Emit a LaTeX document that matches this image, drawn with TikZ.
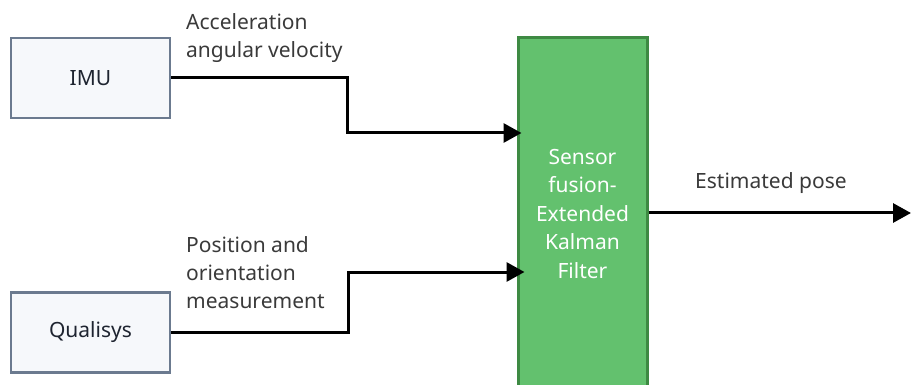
\documentclass[tikz,border=0pt]{standalone}
\usepackage{fontspec}
\setmainfont{Noto Sans}
\usetikzlibrary{arrows.meta}
\definecolor{boxfill}{HTML}{F6F8FB}
\definecolor{boxline}{HTML}{6B7A8F}
\definecolor{ekffill}{HTML}{63C16E}
\definecolor{ekfline}{HTML}{3E8A43}
\definecolor{lbl}{HTML}{3A3A3A}
\definecolor{txt}{HTML}{1E2430}
\tikzset{
  srcbox/.style={draw=boxline, fill=boxfill, line width=2.6pt, minimum width=159pt, minimum height=80pt, inner sep=0pt, text=txt, font=\fontsize{21}{28}\selectfont},
  ekfbox/.style={draw=ekfline, fill=ekffill, line width=3pt, minimum width=129pt, minimum height=352pt, inner sep=0pt, text=white, align=center, font=\fontsize{21}{28.5}\selectfont},
  conn/.style={line width=3pt, -{Triangle[length=18pt,width=19pt]}, line join=miter},
  lbltext/.style={anchor=base west, align=left, inner sep=0pt, text=lbl, font=\fontsize{21}{28}\selectfont}
}
\begin{document}
\begin{tikzpicture}[x=1pt,y=-1pt]
\useasboundingbox (0,0) rectangle (911,385);
\clip (0,0) rectangle (911,385);
\node[srcbox] (imu) at (90.5,78) {IMU};
\node[srcbox] (qual) at (90.5,332.5) {Qualisys};
\node[ekfbox] (ekf) at (582.5,214) {Sensor\\fusion-\\Extended\\Kalman\\Filter};
\coordinate (in1) at (ekf.west |- 0,133);
\coordinate (in2) at (ekf.west |- 0,272);
\coordinate (out) at (911,213);
\coordinate (t1) at (347,78);
\coordinate (t2) at (348,332.5);
\draw[conn, shorten >=-5pt] (imu.east) -- (t1) |- (in1);
\draw[conn, shorten >=-8pt] (qual.east) -- (t2) |- (in2);
\draw[conn] (ekf.east |- out) -- (out);
\node[lbltext] (l1) at (186,58) {Acceleration\\angular velocity};
\node[lbltext] (l2) at (186,308) {Position and\\orientation\\measurement};
\node[lbltext] (l3) at (695,189) {Estimated pose};
\end{tikzpicture}
\end{document}
